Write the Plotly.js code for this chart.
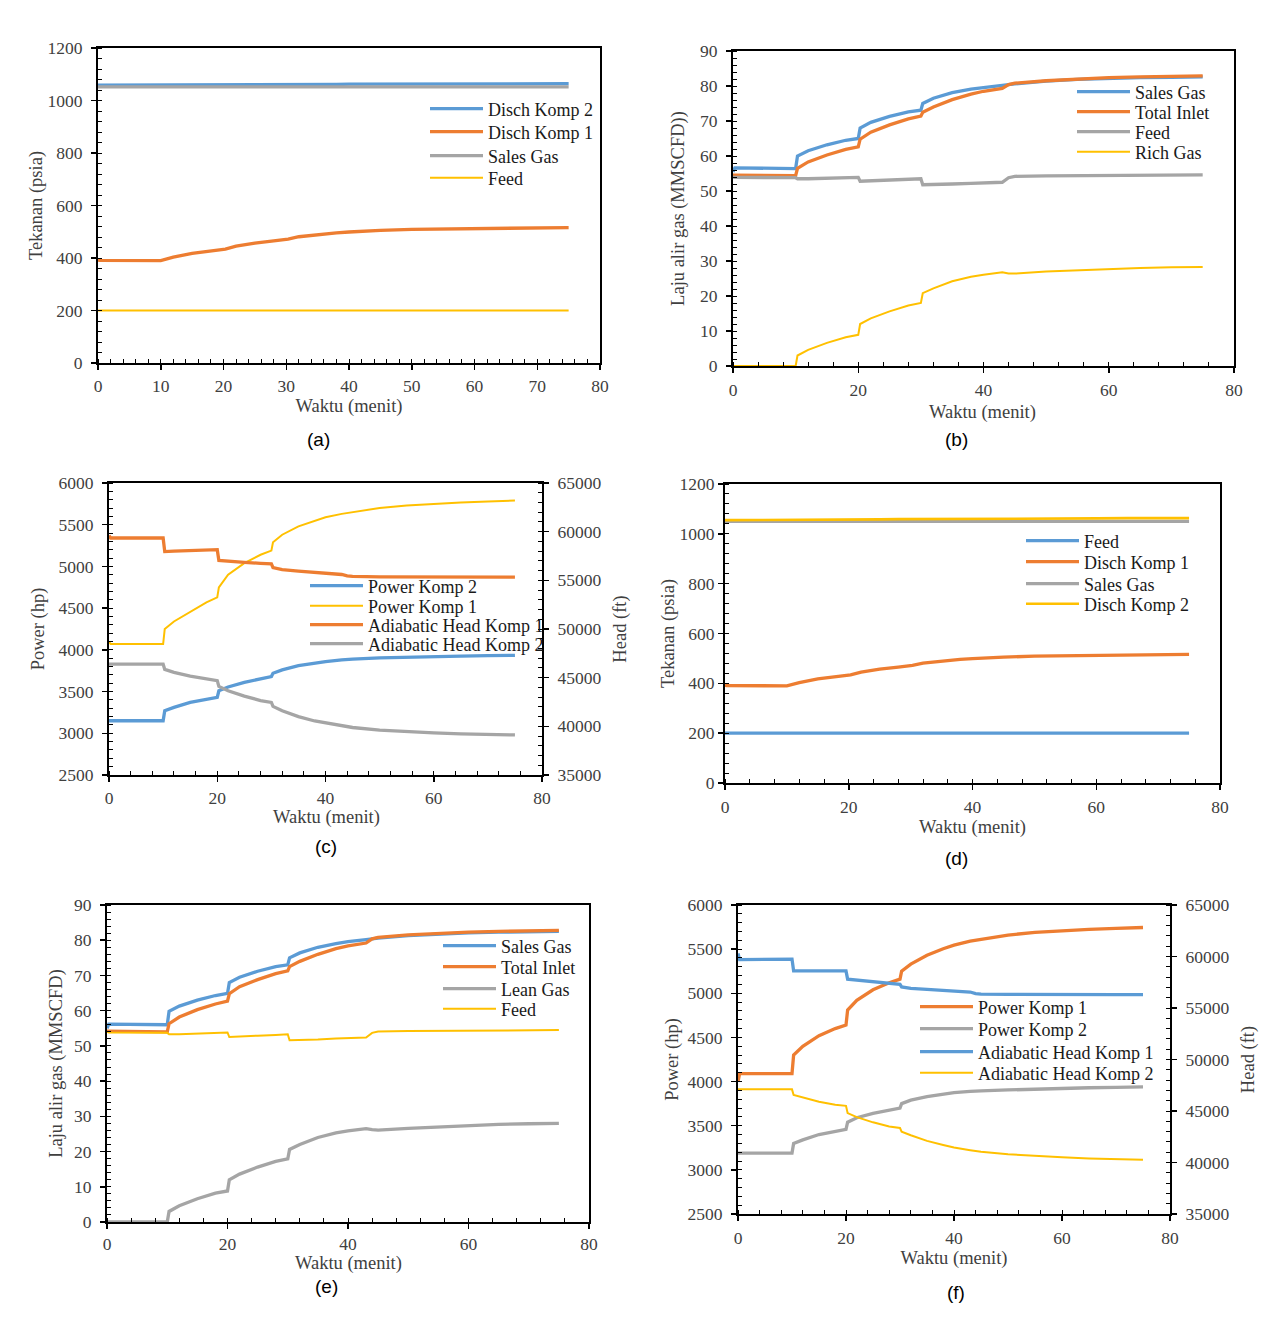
<!DOCTYPE html>
<html><head><meta charset="utf-8">
<script src="https://cdn.plot.ly/plotly-3.0.1.min.js"></script>
<style>html,body{margin:0;padding:0;background:#fff}#chart{width:1285px;height:1329px}</style>
</head><body><div id="chart"></div>
<script>
// ---------- DATA ----------
const timeMin = [0, 0.3, 10, 10.3, 12, 15, 18, 20, 20.3, 22, 25, 28, 30, 30.3, 32, 35, 38, 40, 43, 44, 45, 50, 55, 60, 65, 70, 75];

// (a) Tekanan
const aDischKomp2 = [1058,1058,1058,1058,1058,1059,1059,1059,1059,1059,1060,1060,1060,1060,1061,1061,1061,1062,1062,1062,1062,1062,1063,1063,1063,1064,1064];
const aDischKomp1 = [392,391,390,392,403,418,427,431,434,445,457,465,469,472,481,490,496,499,503,504,505,509,511,513,514,515,516];
const aSalesGas   = [1052,1052,1052,1052,1052,1052,1052,1052,1052,1052,1052,1052,1052,1052,1052,1052,1052,1052,1052,1052,1052,1052,1052,1052,1052,1052,1052];
const aFeed       = [200,200,200,200,200,200,200,200,200,200,200,200,200,200,200,200,200,200,200,200,200,200,200,200,200,200,200];

// (b) Laju alir gas
const bSalesGas   = [55.5,56.6,56.4,60,61.5,63.2,64.5,65,68,69.6,71.3,72.6,73.1,75,76.5,78.1,79.1,79.6,80.2,80.4,80.6,81.4,81.9,82.2,82.4,82.5,82.6];
const bTotalInlet = [54.5,54.5,54.4,56.5,58.3,60.3,61.9,62.6,64.8,66.8,68.9,70.6,71.4,72.5,74,76.1,77.7,78.5,79.3,80.4,80.8,81.5,82,82.4,82.6,82.8,82.9];
const bFeed       = [54,53.9,53.8,53.5,53.5,53.6,53.7,53.9,52.8,52.9,53.1,53.3,53.5,51.8,51.8,52,52.2,52.3,52.5,53.8,54.2,54.3,54.4,54.5,54.5,54.6,54.6];
const bRichGas    = [0,0,0,3,4.6,6.6,8.2,8.9,12,13.6,15.6,17.3,18,20.8,22.2,24.2,25.5,26.1,26.8,26.4,26.4,27,27.4,27.7,28,28.2,28.3];

// (c) Power / Head
const cPowerKomp2 = [3150,3150,3150,3270,3310,3370,3410,3430,3510,3555,3610,3655,3680,3720,3760,3810,3845,3860,3880,3885,3890,3905,3915,3920,3925,3930,3935];
const cPowerKomp1 = [4100,4070,4070,4250,4340,4460,4570,4630,4750,4900,5040,5140,5190,5290,5380,5480,5550,5590,5630,5640,5650,5700,5730,5750,5765,5778,5790];
const cHeadKomp1  = [59600,59350,59350,57950,58000,58050,58100,58150,57050,56950,56850,56750,56700,56300,56100,55950,55800,55700,55600,55450,55400,55350,55350,55330,55330,55330,55330];
const cHeadKomp2  = [46400,46400,46400,45850,45550,45150,44850,44700,44100,43650,43100,42650,42450,42050,41600,41000,40550,40350,40050,39950,39880,39620,39450,39320,39220,39160,39120];

// (d) Tekanan
const dFeed       = [200,200,200,200,200,200,200,200,200,200,200,200,200,200,200,200,200,200,200,200,200,200,200,200,200,200,200];
const dDischKomp1 = [392,391,390,392,403,418,427,431,434,445,457,465,469,472,481,490,496,499,503,504,505,509,511,513,514,515,516];
const dSalesGas   = [1050,1050,1050,1050,1050,1050,1050,1050,1050,1050,1050,1050,1050,1050,1050,1050,1050,1050,1050,1050,1050,1050,1050,1050,1050,1050,1050];
const dDischKomp2 = [1055,1055,1055,1055,1056,1056,1057,1057,1057,1058,1058,1059,1059,1059,1060,1060,1060,1061,1061,1061,1061,1062,1062,1062,1063,1063,1063];

// (e) Laju alir gas
const eSalesGas   = [55,56.2,56,59.8,61.3,63,64.3,64.9,68,69.5,71.2,72.5,73,75,76.4,78,79,79.6,80.2,80.4,80.6,81.3,81.8,82.1,82.3,82.4,82.5];
const eTotalInlet = [54.2,54.2,54,56.3,58.2,60.3,61.9,62.7,64.8,66.8,68.8,70.5,71.3,72.5,74,76,77.6,78.4,79.2,80.4,80.8,81.5,82,82.3,82.5,82.7,82.8];
const eLeanGas    = [0,0,0,3,4.6,6.6,8.2,8.8,12,13.6,15.6,17.2,17.9,20.6,22,24,25.3,25.9,26.5,26.2,26.1,26.6,27,27.4,27.7,27.9,28];
const eFeed       = [54,53.8,53.7,53.3,53.3,53.5,53.6,53.8,52.5,52.7,52.9,53.1,53.3,51.6,51.6,51.8,52.1,52.2,52.4,53.7,54.1,54.2,54.3,54.4,54.4,54.5,54.5];

// (f) Power / Head
const fPowerKomp1 = [4000,4090,4090,4300,4400,4520,4600,4640,4810,4920,5040,5120,5160,5250,5330,5430,5505,5545,5590,5600,5615,5660,5690,5710,5725,5735,5745];
const fPowerKomp2 = [3190,3190,3190,3300,3340,3400,3440,3460,3540,3590,3640,3680,3700,3750,3790,3830,3860,3875,3888,3892,3895,3905,3915,3925,3930,3935,3940];
const fHeadKomp1  = [60300,59700,59750,58600,58600,58600,58600,58600,57800,57700,57550,57400,57300,57050,56900,56800,56700,56650,56550,56400,56350,56320,56300,56300,56300,56300,56300];
const fHeadKomp2  = [47100,47100,47100,46550,46300,45900,45600,45500,44800,44400,43900,43500,43350,43000,42650,42100,41700,41450,41200,41100,41050,40800,40630,40500,40400,40330,40270];

const panelLabels = ['(a)','(b)','(c)','(d)','(e)','(f)'];
const xTitle = 'Waktu (menit)';

// ---------- STYLE ----------
const W = 1285, H = 1329;
const SERIF = 'Liberation Serif';
const SANS = 'Liberation Sans';
const BLUE = '#5B9BD5', ORANGE = '#ED7D31', GRAY = '#A5A5A5', YELLOW = '#FFC000';
const TXT = '#404040';
const TICKSZ = 17.5, TITLESZ = 18.5, LEGSZ = 18;

// legend entry positions: [sample start x, entry centre y] in pixels
const legPos = [
  [431,109],[431,132],[431,156],[431,178],
  [1078,92],[1078,112],[1078,132],[1078,152],
  [311,586],[311,606],[311,625],[311,644],
  [1027,541],[1027,562],[1027,584],[1027,604],
  [444,946],[444,967],[444,989],[444,1009],
  [921,1007],[921,1029],[921,1052],[921,1073]
];

let nTrace = 0;
function tr(y, name, color, width, xa, ya) {
  nTrace++;
  return {type:'scatter', mode:'lines', x: timeMin, y: y, name: name,
    line:{color: color, width: width}, xaxis: xa, yaxis: ya,
    legend: nTrace === 1 ? 'legend' : 'legend' + nTrace, hoverinfo:'skip'};
}

const traces = [
  tr(aDischKomp2,'Disch Komp 2',BLUE,3.3,'x','y'),
  tr(aDischKomp1,'Disch Komp 1',ORANGE,3.3,'x','y'),
  tr(aSalesGas,'Sales Gas',GRAY,3.3,'x','y'),
  tr(aFeed,'Feed',YELLOW,2,'x','y'),

  tr(bSalesGas,'Sales Gas',BLUE,3.3,'x2','y2'),
  tr(bTotalInlet,'Total Inlet',ORANGE,3.3,'x2','y2'),
  tr(bFeed,'Feed',GRAY,3.3,'x2','y2'),
  tr(bRichGas,'Rich Gas',YELLOW,2,'x2','y2'),

  tr(cPowerKomp2,'Power Komp 2',BLUE,3.3,'x3','y3'),
  tr(cPowerKomp1,'Power Komp 1',YELLOW,2,'x3','y3'),
  tr(cHeadKomp1,'Adiabatic Head Komp 1',ORANGE,3.3,'x3','y4'),
  tr(cHeadKomp2,'Adiabatic Head Komp 2',GRAY,3.3,'x3','y4'),

  tr(dFeed,'Feed',BLUE,3.3,'x4','y5'),
  tr(dDischKomp1,'Disch Komp 1',ORANGE,3.3,'x4','y5'),
  tr(dSalesGas,'Sales Gas',GRAY,3.3,'x4','y5'),
  tr(dDischKomp2,'Disch Komp 2',YELLOW,2.6,'x4','y5'),

  tr(eSalesGas,'Sales Gas',BLUE,3.3,'x5','y6'),
  tr(eTotalInlet,'Total Inlet',ORANGE,3.3,'x5','y6'),
  tr(eLeanGas,'Lean Gas',GRAY,3.3,'x5','y6'),
  tr(eFeed,'Feed',YELLOW,2,'x5','y6'),

  tr(fPowerKomp1,'Power Komp 1',ORANGE,3.3,'x6','y7'),
  tr(fPowerKomp2,'Power Komp 2',GRAY,3.3,'x6','y7'),
  tr(fHeadKomp1,'Adiabatic Head Komp 1',BLUE,3.3,'x6','y8'),
  tr(fHeadKomp2,'Adiabatic Head Komp 2',YELLOW,2,'x6','y8'),
];

// plot boxes in pixels: [left, right, top, bottom]
const boxes = [[98,600,48,363],[733,1234,51,366],[109,542,483,775],[725,1220,484,783],[107,589,905,1222],[738,1170,905,1214]];
const yAnchorOf = ['y','y2','y3','y5','y6','y7'];

function axBase(extra) {
  return Object.assign({
    showgrid:false, zeroline:false, showline:true, linecolor:'#000', linewidth:2, mirror:true,
    ticks:'outside', ticklen:5, tickwidth:1.5, tickcolor:'#000', automargin:false, fixedrange:true,
    exponentformat:'none', tickformat:'d',
    tickfont:{family:SERIF, size:TICKSZ, color:TXT}
  }, extra);
}
function xAxis(i, dtick, mdtick, lblOff, titleStandoff) {
  const b = boxes[i];
  const o = axBase({domain:[b[0]/W, b[1]/W], range:[0,80], dtick:dtick, tick0:0, anchor:yAnchorOf[i],
    ticklabelstandoff:lblOff,
    minor:{ticks:'inside', ticklen:4, tickwidth:1, tickcolor:'#000', dtick:mdtick}});
  if (titleStandoff !== null) o.title = {text:xTitle, standoff:titleStandoff, font:{family:SERIF, size:TITLESZ, color:TXT}};
  return o;
}
function yAxis(i, anchor, range, dtick, mdtick, title, standoff, lblOff) {
  const b = boxes[i];
  return axBase({domain:[1-b[3]/H, 1-b[2]/H], range:range, dtick:dtick, tick0:range[0], anchor:anchor,
    ticklabelstandoff:lblOff,
    minor:{ticks:'inside', ticklen:4, tickwidth:1, tickcolor:'#000', dtick:mdtick},
    title:{text:title, standoff:standoff, font:{family:SERIF, size:TITLESZ, color:TXT}}});
}
function yRight(anchor, over, title, standoff) {
  return axBase({overlaying:over, side:'right', anchor:anchor, range:[35000,65000], dtick:5000, tick0:35000,
    mirror:false, ticklabelstandoff:5,
    minor:{ticks:'inside', ticklen:4, tickwidth:1, tickcolor:'#000', dtick:1000},
    title:{text:title, standoff:standoff, font:{family:SERIF, size:TITLESZ, color:TXT}}});
}

const annotations = [];
const labelPos = [[318,440],[956,440],[326,847],[956,858],[326,1286],[956,1292]];
panelLabels.forEach((t,i)=>annotations.push({text:t, x:labelPos[i][0]/W, y:1-labelPos[i][1]/H, xref:'paper', yref:'paper',
  xanchor:'center', yanchor:'middle', showarrow:false, font:{family:SANS, size:19, color:'#000'}}));
// x-axis titles that sit tight against the tick labels in the original
[[983,412],[326,818],[348,1263]].forEach(p=>annotations.push({text:xTitle, x:p[0]/W, y:1-p[1]/H, xref:'paper', yref:'paper',
  xanchor:'center', yanchor:'middle', showarrow:false, font:{family:SERIF, size:TITLESZ, color:TXT}}));

const layout = {
  width:W, height:H, margin:{l:0,r:0,t:0,b:0}, paper_bgcolor:'#fff', plot_bgcolor:'rgba(0,0,0,0)',
  font:{family:SERIF, color:TXT},
  showlegend:true, annotations:annotations,
  xaxis:  xAxis(0,10,2,1,0),
  yaxis:  yAxis(0,'x',[0,1200],200,40,'Tekanan (psia)',0,5),
  xaxis2: xAxis(1,20,4,2,null),
  yaxis2: yAxis(1,'x2',[0,90],10,2,'Laju alir gas (MMSCFD))',11,5),
  xaxis3: xAxis(2,20,4,1,null),
  yaxis3: yAxis(2,'x3',[2500,6000],500,100,'Power (hp)',9,5),
  yaxis4: yRight('x3','y3','Head (ft)',13),
  xaxis4: xAxis(3,20,4,2,1),
  yaxis5: yAxis(3,'x4',[0,1200],200,40,'Tekanan (psia)',0,0),
  xaxis5: xAxis(4,20,4,0,null),
  yaxis6: yAxis(4,'x5',[0,90],10,2,'Laju alir gas (MMSCFD)',7,5),
  xaxis6: xAxis(5,20,4,2,1),
  yaxis7: yAxis(5,'x6',[2500,6000],500,100,'Power (hp)',4,5),
  yaxis8: yRight('x6','y7','Head (ft)',13)
};
legPos.forEach((p,i)=>{
  const key = i === 0 ? 'legend' : 'legend' + (i+1);
  layout[key] = {x:(p[0]-6)/W, y:1-p[1]/H, xanchor:'left', yanchor:'middle', bgcolor:'rgba(0,0,0,0)', borderwidth:0,
    font:{family:SERIF, size:LEGSZ, color:'#1a1a1a'}, itemwidth:53};
});

Plotly.newPlot('chart', traces, layout, {staticPlot:true, displayModeBar:false});
</script>
</body></html>
